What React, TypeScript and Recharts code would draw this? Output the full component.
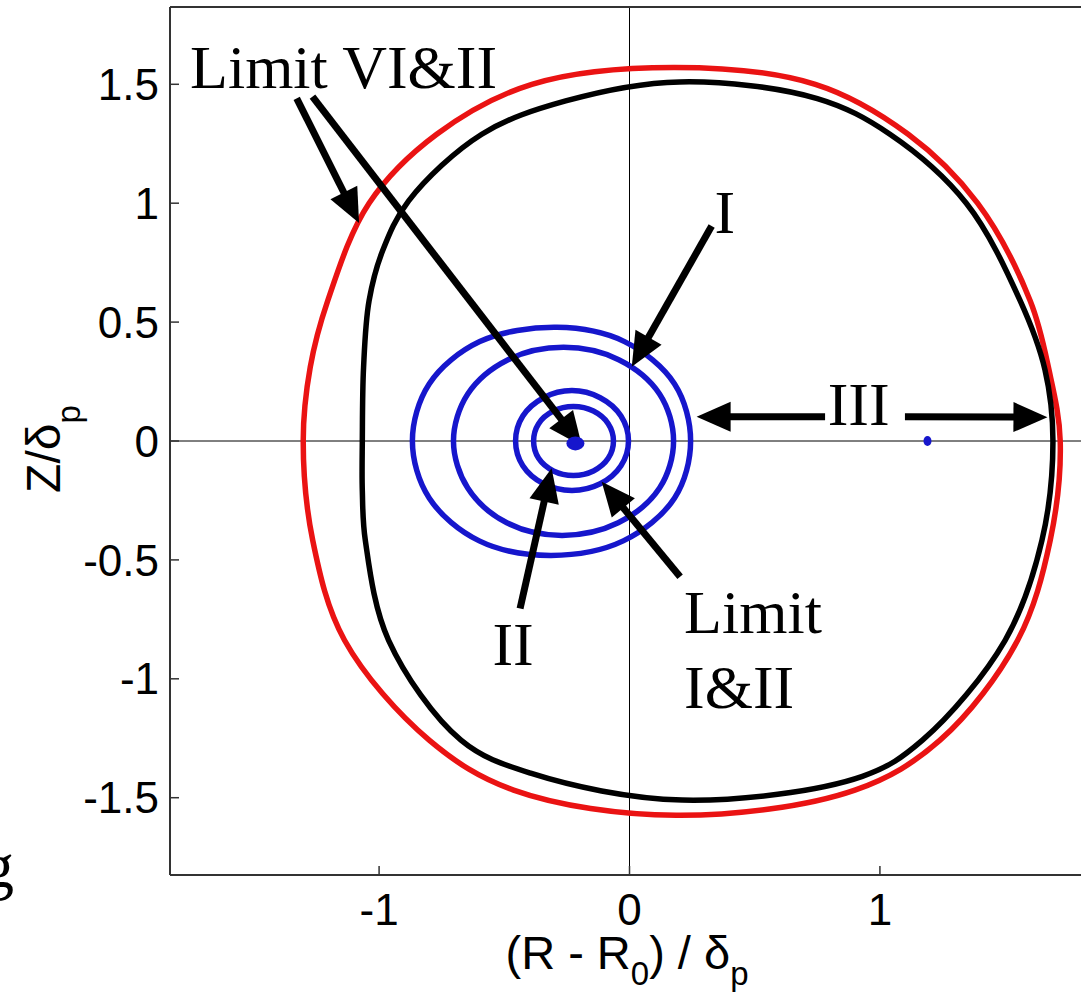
import React from 'react';
import {
  ComposedChart,
  Line,
  Scatter,
  XAxis,
  YAxis,
  ReferenceLine,
  ReferenceDot,
} from 'recharts';

// ---------- data ----------
const xTicks = [-1, 0, 1];
const yTicks = [-1.5, -1, -0.5, 0, 0.5, 1, 1.5];
const xDomain: [number, number] = [-1.835, 1.815];
const yDomain: [number, number] = [-1.825, 1.825];

// red outer limit curve (closed loop)
const redCurve = [
  { x: -1.303, y: 0 },
  { x: -1.275, y: 0.31 },
  { x: -1.205, y: 0.59 },
  { x: -1.04, y: 1.0 },
  { x: -0.77, y: 1.29 },
  { x: -0.39, y: 1.5 },
  { x: 0.18, y: 1.571 },
  { x: 0.742, y: 1.5 },
  { x: 1.113, y: 1.29 },
  { x: 1.39, y: 1.0 },
  { x: 1.6, y: 0.59 },
  { x: 1.675, y: 0.3 },
  { x: 1.72, y: 0 },
  { x: 1.68, y: -0.418 },
  { x: 1.55, y: -0.838 },
  { x: 1.24, y: -1.258 },
  { x: 0.9, y: -1.468 },
  { x: 0.186, y: -1.574 },
  { x: -0.463, y: -1.468 },
  { x: -0.8, y: -1.258 },
  { x: -1.138, y: -0.838 },
  { x: -1.265, y: -0.418 },
];

// black D-shaped curve (closed loop)
const blackCurve = [
  { x: -1.067, y: 0 },
  { x: -1.062, y: 0.31 },
  { x: -1.04, y: 0.59 },
  { x: -0.986, y: 0.8 },
  { x: -0.882, y: 1.01 },
  { x: -0.59, y: 1.29 },
  { x: -0.255, y: 1.43 },
  { x: 0.2, y: 1.51 },
  { x: 0.75, y: 1.44 },
  { x: 1.04, y: 1.29 },
  { x: 1.345, y: 1.0 },
  { x: 1.56, y: 0.59 },
  { x: 1.659, y: 0.3 },
  { x: 1.691, y: 0 },
  { x: 1.647, y: -0.418 },
  { x: 1.5, y: -0.838 },
  { x: 1.17, y: -1.258 },
  { x: 0.93, y: -1.41 },
  { x: 0.21, y: -1.51 },
  { x: -0.395, y: -1.397 },
  { x: -0.673, y: -1.258 },
  { x: -0.962, y: -0.838 },
  { x: -1.055, y: -0.418 },
  { x: -1.067, y: -0.21 },
];

// blue rings, outermost first (closed loops)
const blueRing1 = [
  { x: -0.867, y: 0 },
  { x: -0.8, y: 0.24 },
  { x: -0.598, y: 0.418 },
  { x: -0.29, y: 0.478 },
  { x: -0.02, y: 0.418 },
  { x: 0.18, y: 0.24 },
  { x: 0.244, y: 0 },
  { x: 0.18, y: -0.24 },
  { x: -0.025, y: -0.42 },
  { x: -0.315, y: -0.481 },
  { x: -0.6, y: -0.42 },
  { x: -0.8, y: -0.24 },
];

const blueRing2 = [
  { x: -0.703, y: 0 },
  { x: -0.646, y: 0.198 },
  { x: -0.485, y: 0.342 },
  { x: -0.263, y: 0.394 },
  { x: -0.043, y: 0.342 },
  { x: 0.12, y: 0.198 },
  { x: 0.176, y: 0 },
  { x: 0.12, y: -0.198 },
  { x: -0.045, y: -0.344 },
  { x: -0.27, y: -0.397 },
  { x: -0.49, y: -0.344 },
  { x: -0.646, y: -0.198 },
];

const blueRing3 = [
  { x: -0.455, y: 0 },
  { x: -0.426, y: 0.105 },
  { x: -0.343, y: 0.182 },
  { x: -0.23, y: 0.212 },
  { x: -0.117, y: 0.182 },
  { x: -0.034, y: 0.105 },
  { x: -0.004, y: 0 },
  { x: -0.034, y: -0.104 },
  { x: -0.117, y: -0.18 },
  { x: -0.23, y: -0.208 },
  { x: -0.343, y: -0.18 },
  { x: -0.426, y: -0.104 },
];

const blueRing4 = [
  { x: -0.383, y: 0 },
  { x: -0.363, y: 0.073 },
  { x: -0.304, y: 0.126 },
  { x: -0.224, y: 0.145 },
  { x: -0.144, y: 0.126 },
  { x: -0.085, y: 0.073 },
  { x: -0.064, y: 0 },
  { x: -0.085, y: -0.073 },
  { x: -0.144, y: -0.126 },
  { x: -0.224, y: -0.145 },
  { x: -0.304, y: -0.126 },
  { x: -0.363, y: -0.073 },
];

const blueCenter = [{ x: -0.216, y: -0.01 }];
const blueDot = [{ x: 1.19, y: 0 }];

// annotation arrows: from -> tip
const arrows = [
  { x1: -1.329, y1: 1.441, x2: -1.08, y2: 0.917 },
  { x1: -1.266, y1: 1.448, x2: -0.19, y2: -0.021 },
  { x1: 0.328, y1: 0.904, x2: 0.009, y2: 0.312 },
  { x1: 0.781, y1: 0.102, x2: 0.268, y2: 0.102 },
  { x1: 1.1, y1: 0.102, x2: 1.669, y2: 0.1 },
  { x1: -0.437, y1: -0.704, x2: -0.311, y2: -0.115 },
  { x1: 0.202, y1: -0.571, x2: -0.111, y2: -0.171 },
];

const annotations = [
  { x: -1.755, y: 1.484, text: 'Limit VI&II', anchor: 'start' },
  { x: 0.381, y: 0.875, text: 'I', anchor: 'middle' },
  { x: 0.915, y: 0.067, text: 'III', anchor: 'middle' },
  { x: -0.465, y: -0.942, text: 'II', anchor: 'middle' },
  { x: 0.218, y: -0.807, text: 'Limit', anchor: 'start' },
  { x: 0.218, y: -1.123, text: 'I&II', anchor: 'start' },
];

// ---------- styling ----------
const SERIF = '"Liberation Serif", "Times New Roman", Times, serif';
const SANS = '"Liberation Sans", Arial, Helvetica, sans-serif';
const RED = '#ea1313';
const BLUE = '#1616cc';
const FRAME = '#333333';

// closed centripetal Catmull-Rom curve factory (smooth loop through the points)
const closedSmooth = (context: any) => {
  let pts: number[][] = [];
  return {
    areaStart() {},
    areaEnd() {},
    lineStart() {
      pts = [];
    },
    point(x: number, y: number) {
      pts.push([+x, +y]);
    },
    lineEnd() {
      const n = pts.length;
      if (!n) return;
      context.moveTo(pts[0][0], pts[0][1]);
      if (n < 3) {
        for (let i = 1; i < n; i++) context.lineTo(pts[i][0], pts[i][1]);
        return;
      }
      for (let i = 0; i < n; i++) {
        const p0 = pts[(i - 1 + n) % n];
        const p1 = pts[i];
        const p2 = pts[(i + 1) % n];
        const p3 = pts[(i + 2) % n];
        const d01 = Math.hypot(p1[0] - p0[0], p1[1] - p0[1]);
        const d12 = Math.hypot(p2[0] - p1[0], p2[1] - p1[1]);
        const d23 = Math.hypot(p3[0] - p2[0], p3[1] - p2[1]);
        const l01a = Math.sqrt(d01);
        const l12a = Math.sqrt(d12);
        const l23a = Math.sqrt(d23);
        let c1x = p1[0];
        let c1y = p1[1];
        let c2x = p2[0];
        let c2y = p2[1];
        if (l01a > 1e-6) {
          const a = 2 * d01 + 3 * l01a * l12a + d12;
          const m = 3 * l01a * (l01a + l12a);
          c1x = (p1[0] * a - p0[0] * d12 + p2[0] * d01) / m;
          c1y = (p1[1] * a - p0[1] * d12 + p2[1] * d01) / m;
        }
        if (l23a > 1e-6) {
          const b = 2 * d23 + 3 * l23a * l12a + d12;
          const m = 3 * l23a * (l23a + l12a);
          c2x = (p2[0] * b + p1[0] * d23 - p3[0] * d12) / m;
          c2y = (p2[1] * b + p1[1] * d23 - p3[1] * d12) / m;
        }
        context.bezierCurveTo(c1x, c1y, c2x, c2y, p2[0], p2[1]);
      }
      context.closePath();
    },
  };
};

const Arrow = (props: any) => {
  const { x1, y1, x2, y2 } = props;
  const dx = x2 - x1;
  const dy = y2 - y1;
  const len = Math.hypot(dx, dy) || 1;
  const ux = dx / len;
  const uy = dy / len;
  const headLen = 34;
  const halfW = 15;
  const bx = x2 - ux * headLen;
  const by = y2 - uy * headLen;
  const px = -uy;
  const py = ux;
  return (
    <g>
      <line x1={x1} y1={y1} x2={bx + ux * 3} y2={by + uy * 3} stroke="#000" strokeWidth={7} />
      <polygon
        points={`${x2},${y2} ${bx + px * halfW},${by + py * halfW} ${bx - px * halfW},${by - py * halfW}`}
        fill="#000"
      />
    </g>
  );
};

const XLabel = (props: any) => {
  const vb = props.viewBox || { x: 170, y: 875, width: 914, height: 119 };
  const cx = vb.x + vb.width / 2;
  const by = vb.y + 94;
  return (
    <text x={cx} y={by} textAnchor="middle" fontFamily={SANS} fontSize={47} fill="#000">
      (R - R
      <tspan fontSize={33} dy={16}>0</tspan>
      <tspan dy={-16}>) / δ</tspan>
      <tspan fontSize={33} dy={16}>p</tspan>
    </text>
  );
};

const YLabel = (props: any) => {
  const vb = props.viewBox || { x: 0, y: 7, width: 170, height: 868 };
  const bx = vb.x + 60;
  const cy = vb.y + vb.height / 2 + 8;
  return (
    <text
      x={bx}
      y={cy}
      transform={`rotate(-90 ${bx} ${cy})`}
      textAnchor="middle"
      fontFamily={SANS}
      fontSize={48}
      fill="#000"
    >
      Z/δ
      <tspan fontSize={33} dy={20}>p</tspan>
    </text>
  );
};

export default function App() {
  const lineCommon = {
    dataKey: 'y',
    type: closedSmooth as any,
    strokeWidth: 5.5,
    dot: false,
    activeDot: false,
    isAnimationActive: false,
  };
  return (
    <div
      style={{
        position: 'absolute',
        left: 0,
        top: 0,
        width: 1081,
        height: 994,
        overflow: 'hidden',
        background: '#ffffff',
      }}
    >
      <svg width={40} height={994} style={{ position: 'absolute', left: 0, top: 0 }}>
        <text x={-18} y={887} fontFamily={SERIF} fontSize={64} fill="#000">
          g
        </text>
      </svg>
      <div style={{ position: 'absolute', left: 0, top: 0 }}>
        <ComposedChart
          width={1100}
          height={994}
          margin={{ top: 6, right: 15, bottom: 0, left: 0 }}
        >
          <XAxis
            dataKey="x"
            type="number"
            domain={xDomain}
            ticks={xTicks}
            interval={0}
            allowDataOverflow
            height={119}
            tickSize={-9}
            tickMargin={28}
            axisLine={{ stroke: FRAME, strokeWidth: 2 }}
            tickLine={{ stroke: FRAME, strokeWidth: 1.5 }}
            tick={{ fill: '#000', fontSize: 44, fontFamily: SANS }}
            label={{ content: XLabel }}
          />
          <XAxis
            xAxisId="top"
            orientation="top"
            dataKey="x"
            type="number"
            domain={xDomain}
            ticks={xTicks}
            interval={0}
            allowDataOverflow
            height={1}
            tickSize={-9}
            tick={false}
            axisLine={{ stroke: FRAME, strokeWidth: 2 }}
            tickLine={{ stroke: FRAME, strokeWidth: 1.5 }}
          />
          <YAxis
            dataKey="y"
            type="number"
            domain={yDomain}
            ticks={yTicks}
            interval={0}
            allowDataOverflow
            width={170}
            tickSize={-9}
            tickMargin={20}
            axisLine={{ stroke: FRAME, strokeWidth: 2 }}
            tickLine={{ stroke: FRAME, strokeWidth: 1.5 }}
            tick={{ fill: '#000', fontSize: 44, fontFamily: SANS }}
            label={{ content: YLabel }}
          />
          <YAxis
            yAxisId="right"
            orientation="right"
            dataKey="y"
            type="number"
            domain={yDomain}
            ticks={yTicks}
            interval={0}
            allowDataOverflow
            width={1}
            tickSize={-9}
            tick={false}
            axisLine={{ stroke: FRAME, strokeWidth: 2 }}
            tickLine={{ stroke: FRAME, strokeWidth: 1.5 }}
          />

          <ReferenceLine x={0} stroke="#000" strokeWidth={1} />
          <ReferenceLine y={0} stroke="#000" strokeWidth={1} />

          <Line data={redCurve} stroke={RED} {...lineCommon} />
          <Line data={blackCurve} stroke="#000" {...lineCommon} />
          <Line data={blueRing1} stroke={BLUE} {...lineCommon} />
          <Line data={blueRing2} stroke={BLUE} {...lineCommon} />
          <Line data={blueRing3} stroke={BLUE} {...lineCommon} />
          <Line data={blueRing4} stroke={BLUE} {...lineCommon} />

          <Scatter
            data={blueCenter}
            dataKey="y"
            isAnimationActive={false}
            shape={(p: any) => <ellipse cx={p.cx} cy={p.cy} rx={9} ry={7} fill={BLUE} />}
          />
          <Scatter
            data={blueDot}
            dataKey="y"
            isAnimationActive={false}
            shape={(p: any) => <ellipse cx={p.cx} cy={p.cy} rx={4} ry={5} fill={BLUE} />}
          />

          {arrows.map((a, i) => (
            <ReferenceLine
              key={`arrow-${i}`}
              segment={[
                { x: a.x1, y: a.y1 },
                { x: a.x2, y: a.y2 },
              ]}
              ifOverflow="visible"
              shape={Arrow}
            />
          ))}

          {annotations.map((t, i) => (
            <ReferenceDot
              key={`ann-${i}`}
              x={t.x}
              y={t.y}
              r={1}
              ifOverflow="visible"
              shape={(p: any) => (
                <text
                  x={p.cx}
                  y={p.cy}
                  textAnchor={t.anchor as any}
                  fontFamily={SERIF}
                  fontSize={62}
                  fill="#000"
                >
                  {t.text}
                </text>
              )}
            />
          ))}
        </ComposedChart>
      </div>
    </div>
  );
}
